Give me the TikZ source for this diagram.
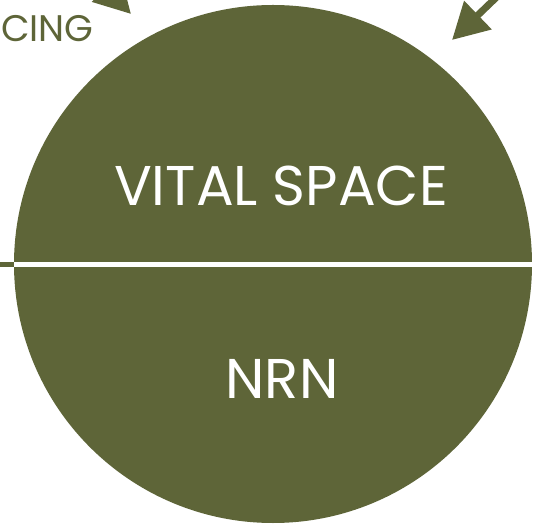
\documentclass[tikz,border=0pt]{standalone}
\usepackage{fontspec}
\setmainfont{Poppins}
\usetikzlibrary{arrows.meta}
\definecolor{olive}{RGB}{94,101,56}
\tikzset{
  lbl/.style={text=white, font=\fontsize{56}{56}\selectfont, inner sep=0pt},
  arr/.style={draw=olive, line width=7pt, -{Triangle[length=36pt,width=38pt]}},
}
\begin{document}
\begin{tikzpicture}[x=1pt,y=-1pt]
\useasboundingbox (0,0) rectangle (535,526);
\clip (0,0) rectangle (535,526);
\node[circle, fill=olive, minimum size=518pt, inner sep=0pt] (c) at (273,264) {};
\coordinate (lw) at (0,265);
\coordinate (le) at (14,265);
\coordinate (re) at (535,265);
\draw[olive, line width=5pt] (lw) -- (le);
\draw[white, line width=5pt] (le) -- (re);
\node[lbl, anchor=base] (vs) at (281,206) {VITAL SPACE};
\node[lbl, anchor=base] (nrn) at (282,398) {NRN};
\node[text=olive, font=\fontsize{37}{37}\selectfont, inner sep=0pt, anchor=base west] (cing) at (1,42) {CING};
\coordinate (a1s) at (60,-60);
\coordinate (a1e) at (131,14);
\draw[arr] (a1s) -- (a1e);
\coordinate (a2s) at (530,-35);
\coordinate (a2e) at (452,40);
\draw[arr] (a2s) -- (a2e);
\end{tikzpicture}
\end{document}
